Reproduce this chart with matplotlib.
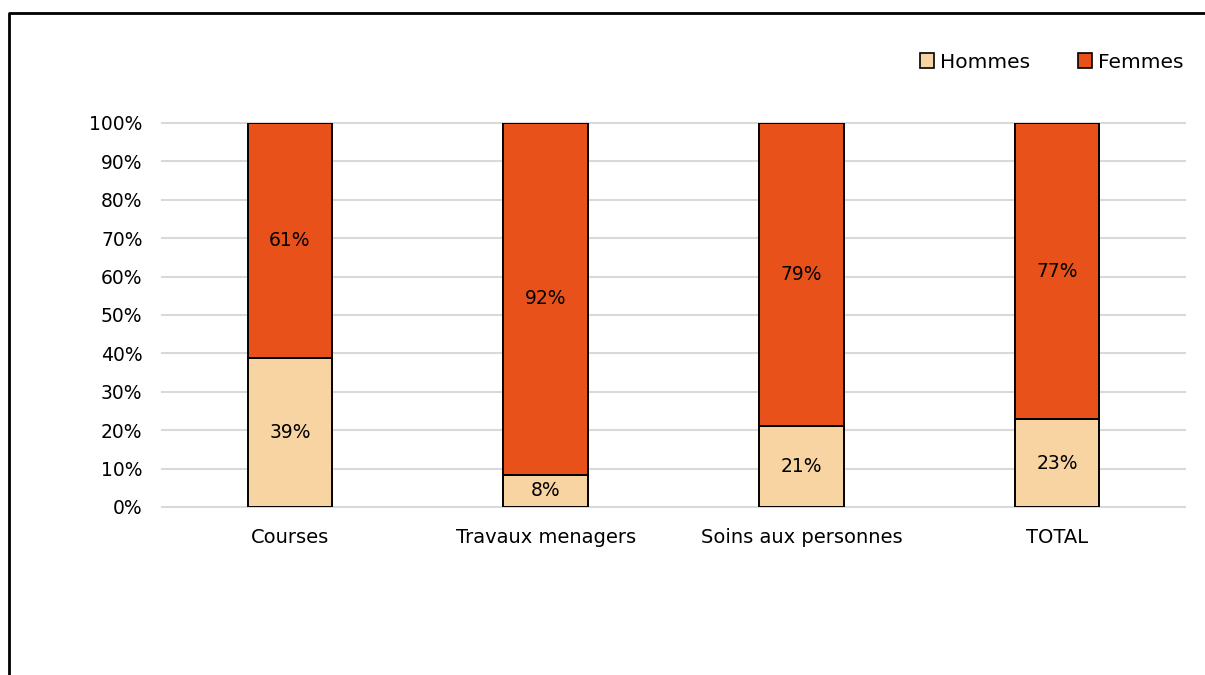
import matplotlib
matplotlib.use("Agg")
import matplotlib.pyplot as plt
from matplotlib.lines import Line2D
from matplotlib.patches import Patch

categories = ["Courses", "Travaux menagers", "Soins aux personnes", "TOTAL"]
hommes = [38.7, 8.4, 21.1, 22.9]
femmes = [100 - h for h in hommes]
yticks = [0, 10, 20, 30, 40, 50, 60, 70, 80, 90, 100]

c_h = "#F8D4A2"
c_f = "#E8521A"

plt.rcParams['font.family'] = ['DejaVu Sans']

W, H = 1205, 675
fig = plt.figure(figsize=(W / 100, H / 100), dpi=100)
ax = fig.add_axes([162 / W, 1 - 507 / H, (1185 - 162) / W, (507 - 123) / H])

x = list(range(len(categories)))
bw = 0.33
ax.bar(x, hommes, width=bw, color=c_h, edgecolor="black", linewidth=1.4, zorder=3, label="Hommes")
ax.bar(x, femmes, width=bw, bottom=hommes, color=c_f, edgecolor="black", linewidth=1.4, zorder=3, label="Femmes")

for i in x:
    ax.text(i, hommes[i] / 2, f"{round(hommes[i])}%", ha="center", va="center", fontsize=13.5, zorder=4)
    ax.text(i, hommes[i] + femmes[i] / 2, f"{round(femmes[i])}%", ha="center", va="center", fontsize=13.5, zorder=4)

ax.set_xlim(-0.5, len(categories) - 0.5)
ax.set_ylim(0, 100)
ax.set_yticks(yticks)
ax.set_yticklabels([f"{t}%" for t in yticks], fontsize=13.5)
ax.set_xticks(x)
ax.set_xticklabels(categories, fontsize=14)
ax.tick_params(axis="both", length=0)
ax.tick_params(axis="y", pad=14)
ax.tick_params(axis="x", pad=15)
ax.grid(axis="y", color="#d9d9d9", linewidth=1.5, zorder=0)
for gl in ax.get_ygridlines():
    gl.set_clip_on(False)
for s in ax.spines.values():
    s.set_visible(False)

handles = [Patch(facecolor=c_h, edgecolor="black", linewidth=1.2),
           Patch(facecolor=c_f, edgecolor="black", linewidth=1.2)]
fig.legend(handles, ["Hommes", "Femmes"], loc="center right", bbox_to_anchor=(1184 / W, 1 - 62 / H),
           ncol=2, frameon=False, fontsize=14.5, handlelength=0.7, handleheight=0.7,
           handletextpad=0.3, columnspacing=2.4, borderpad=0, borderaxespad=0)

fig.add_artist(Line2D([9 / W, 9 / W, 1], [0, 1 - 13 / H, 1 - 13 / H], transform=fig.transFigure,
                      color="black", linewidth=2))

fig.savefig("out.png", dpi=100)
